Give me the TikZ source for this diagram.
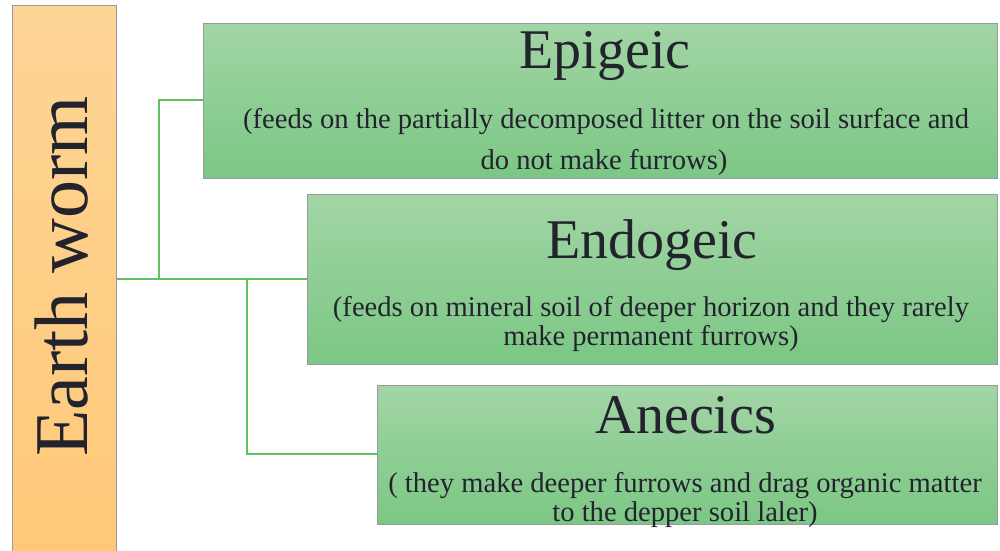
\documentclass[tikz,border=0pt]{standalone}
\usepackage{fontspec}
\setmainfont{Liberation Serif}
\definecolor{txt}{HTML}{23232E}
\definecolor{greenTop}{HTML}{A2D5A5}
\definecolor{greenBot}{HTML}{7BC784}
\definecolor{orangeTop}{HTML}{FDD596}
\definecolor{orangeBot}{HTML}{FFC877}
\definecolor{frame}{HTML}{9A9A9A}
\definecolor{link}{HTML}{5EC262}
\begin{document}
\begin{tikzpicture}[x=1pt,y=-1pt,
  greenbox/.style={draw=frame, line width=0.8pt, top color=greenTop, bottom color=greenBot},
  orangebox/.style={draw=frame, line width=0.8pt, top color=orangeTop, bottom color=orangeBot},
  title/.style={anchor=base, inner sep=0pt, text=txt, font=\fontsize{56}{60}\selectfont},
  desc/.style={anchor=base, inner sep=0pt, text=txt, font=\fontsize{28.6}{32}\selectfont},
  connector/.style={draw=link, line width=2pt}]
\useasboundingbox (0,0) rectangle (1000,550);
% boxes
\node[orangebox, anchor=north west, minimum width=104pt, minimum height=560pt, inner sep=0pt] (ew) at (12,5) {};
\node[greenbox, anchor=north west, minimum width=794pt, minimum height=155pt, inner sep=0pt] (epi) at (203,23) {};
\node[greenbox, anchor=north west, minimum width=690pt, minimum height=170pt, inner sep=0pt] (endo) at (307,194) {};
\node[greenbox, anchor=north west, minimum width=620pt, minimum height=139pt, inner sep=0pt] (ane) at (377,385) {};
% texts
\node[anchor=base, inner sep=0pt, text=txt, rotate=90, font=\fontsize{76}{80}\selectfont] (ewT) at (87,276.5) {Earth worm};
\node[title] (epiT) at (605,68) {Epigeic};
\node[desc] (epiD1) at (606,128) {(feeds on the partially decomposed litter on the soil surface and};
\node[desc] (epiD2) at (604,169) {do not make furrows)};
\node[title] (endoT) at (652,258) {Endogeic};
\node[desc] (endoD1) at (651,316) {(feeds on mineral soil of deeper horizon and they rarely};
\node[desc] (endoD2) at (651,345) {make permanent furrows)};
\node[title] (aneT) at (686,433) {Anecics};
\node[desc] (aneD1) at (685,492) {( they make deeper furrows and drag organic matter};
\node[desc] (aneD2) at (685,521) {to the depper soil laler)};
% connectors
\coordinate (j1) at (159,278.5);
\coordinate (j2) at (247,278.5);
\draw[connector] (ew.east |- j1) -- (endo.west |- j1);
\draw[connector] (j1) |- (epi.west |- 0,100);
\draw[connector] (j2) |- (ane.west |- 0,454);
\end{tikzpicture}
\end{document}
